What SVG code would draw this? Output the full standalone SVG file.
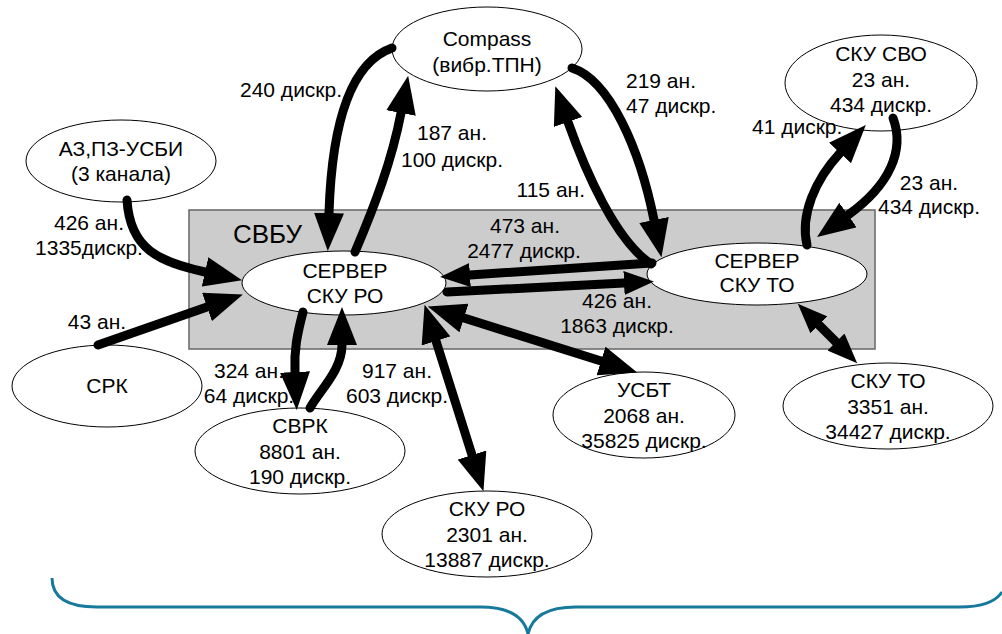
<svg xmlns="http://www.w3.org/2000/svg" width="1002" height="634" viewBox="0 0 1002 634">
<style>
.node ellipse{fill:#fff;stroke:#000;stroke-width:1}
text{font-family:"Liberation Sans",Arial,sans-serif;font-size:21px;fill:#000}
.c{text-anchor:middle}
.e{text-anchor:end}
.conn path{fill:none;stroke:#000;stroke-width:9;stroke-linecap:round}
.a{marker-end:url(#ah)}
.b{marker-start:url(#ah);marker-end:url(#ah)}
.s{marker-end:url(#ahs)}
.bs{marker-start:url(#ahs);marker-end:url(#ahs)}
</style>
<defs>
<marker id="ah" viewBox="0 0 38 30" refX="0" refY="15" markerWidth="38" markerHeight="30" orient="auto-start-reverse" markerUnits="userSpaceOnUse"><path d="M0,0 L38,15 L0,30 z" fill="#000"/></marker>
<marker id="ahs" viewBox="0 0 30 24" refX="0" refY="12" markerWidth="30" markerHeight="24" orient="auto-start-reverse" markerUnits="userSpaceOnUse"><path d="M0,0 L30,12 L0,24 z" fill="#000"/></marker>
</defs>
<rect id="svbu" x="189" y="210" width="686" height="139" fill="#cccccc" stroke="#666" stroke-width="1.5"/>
<text x="233" y="243" style="font-size:26px">СВБУ</text>
<g id="compass" class="node"><ellipse cx="487" cy="49" rx="95" ry="42"/><text class="c" x="487" y="46">Compass</text><text class="c" x="487" y="72">(вибр.ТПН)</text></g>
<g id="azpz" class="node"><ellipse cx="121" cy="161" rx="95" ry="41"/><text class="c" x="121" y="156">АЗ,ПЗ-УСБИ</text><text class="c" x="121" y="181">(3 канала)</text></g>
<g id="skusvo" class="node"><ellipse cx="881" cy="83" rx="96" ry="48"/><text class="c" x="881" y="61">СКУ СВО</text><text class="c" x="881" y="87">23 ан.</text><text class="c" x="881" y="112">434 дискр.</text></g>
<g id="srvro" class="node"><ellipse cx="344" cy="283" rx="102" ry="32"/><text class="c" x="345" y="278">СЕРВЕР</text><text class="c" x="345" y="303">СКУ РО</text></g>
<g id="srvto" class="node"><ellipse cx="757" cy="274" rx="110" ry="31"/><text class="c" x="757" y="268">СЕРВЕР</text><text class="c" x="757" y="292">СКУ ТО</text></g>
<g id="srk" class="node"><ellipse cx="107" cy="386" rx="95" ry="41"/><text class="c" x="107" y="393">СРК</text></g>
<g id="svrk" class="node"><ellipse cx="300" cy="451" rx="105" ry="43"/><text class="c" x="300" y="433">СВРК</text><text class="c" x="300" y="459">8801 ан.</text><text class="c" x="300" y="484">190 дискр.</text></g>
<g id="skuro" class="node"><ellipse cx="487" cy="534" rx="105" ry="43"/><text class="c" x="487" y="516">СКУ РО</text><text class="c" x="487" y="542">2301 ан.</text><text class="c" x="487" y="567">13887 дискр.</text></g>
<g id="usbt" class="node"><ellipse cx="644" cy="415" rx="91" ry="43"/><text class="c" x="644" y="397">УСБТ</text><text class="c" x="644" y="423">2068 ан.</text><text class="c" x="644" y="448">35825 дискр.</text></g>
<g id="skuto" class="node"><ellipse cx="888" cy="406" rx="105" ry="43"/><text class="c" x="888" y="388">СКУ ТО</text><text class="c" x="888" y="414">3351 ан.</text><text class="c" x="888" y="439">34427 дискр.</text></g>
<g id="connectors" class="conn">
<path class="a" d="M392,48 C352,62 332,120 329,213"/>
<path class="a" d="M355,252 C375,205 392,160 401,113"/>
<path class="a" d="M572,68 C610,80 640,150 654,220"/>
<path class="a" d="M651,264 C615,240 585,170 568,122"/>
<path class="s" d="M652,263 L470,275"/>
<path class="s" d="M447,292 L624,283"/>
<path class="a" d="M127,200 C130,250 160,262 205,272"/>
<path class="a" d="M98,345 L207,307"/>
<path class="a" d="M303,312 C297,335 294,350 295,372"/>
<path class="a" d="M310,408 C320,390 342,370 342,345"/>
<path class="b" d="M436,341 L472,455"/>
<path class="b" d="M464,318 L601,361"/>
<path class="bs" d="M819,325 L836,342"/>
<path class="a" d="M807,245 C800,215 815,180 840,153"/>
<path class="a" d="M893,118 C905,150 890,185 848,215"/>
</g>
<g id="labels">
<text x="240" y="97">240 дискр.</text>
<text class="c" x="452" y="140">187 ан.</text><text class="c" x="452" y="167">100 дискр.</text>
<text class="e" x="585" y="197">115 ан.</text>
<text x="626" y="88">219 ан.</text><text x="626" y="113">47 дискр.</text>
<text x="752" y="134">41 дискр.</text>
<text class="c" x="929" y="190">23 ан.</text><text class="c" x="929" y="214">434 дискр.</text>
<text class="c" x="525" y="233">473 ан.</text><text class="c" x="524" y="258">2477 дискр.</text>
<text class="c" x="617" y="308">426 ан.</text><text class="c" x="617" y="333">1863 дискр.</text>
<text class="c" x="89" y="230">426 ан.</text><text class="c" x="89" y="255">1335дискр.</text>
<text class="c" x="97" y="329">43 ан.</text>
<text class="c" x="249" y="378">324 ан.</text><text class="c" x="249" y="403">64 дискр.</text>
<text class="c" x="397" y="378">917 ан.</text><text class="c" x="397" y="403">603 дискр.</text>
</g>
<path id="brace" d="M52,578 Q52,607 97,607 L480,607 Q522,607 528,634 Q534,607 576,607 L960,607 Q992,607 1002,592" fill="none" stroke="#17799b" stroke-width="3"/>
</svg>
